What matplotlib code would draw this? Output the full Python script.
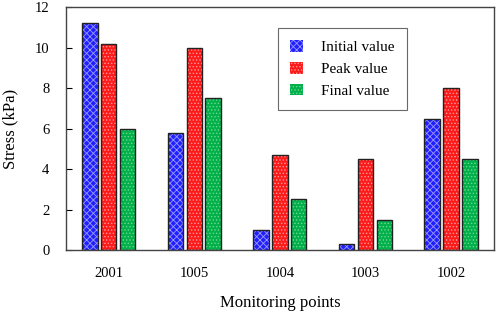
import matplotlib.pyplot as plt
import numpy as np

plt.rcParams["font.family"] = ["Liberation Serif", "DejaVu Serif"]
plt.rcParams["hatch.linewidth"] = 0.6

points = ["2001", "1005", "1004", "1003", "1002"]
initial = [11.2, 5.8, 1.0, 0.3, 6.5]
peak = [10.2, 10.0, 4.7, 4.5, 8.0]
final = [6.0, 7.5, 2.5, 1.5, 4.5]

series = [
    ("Initial value", initial, "#2020ff", "#9a9aff", "xxxxx"),
    ("Peak value", peak, "#ff1a1a", "#ff9a9a", "....."),
    ("Final value", final, "#00b04a", "#70d890", "....."),
]

fig = plt.figure(figsize=(4.98, 3.13), dpi=100)
ax = fig.add_axes([0.1325, 0.201, 0.859, 0.776])

x = np.arange(len(points))
w = 0.18
step = 0.22
handles = []
for i, (name, vals, face, hcol, hatch) in enumerate(series):
    pos = x + (i - 1) * step
    ax.bar(pos, vals, width=w, color=face, edgecolor=hcol, hatch=hatch, linewidth=0)
    ax.bar(pos, vals, width=w, fill=False, edgecolor="#222222", linewidth=1.0)
    h = plt.Rectangle((0, 0), 1, 1, facecolor=face, edgecolor=hcol, hatch=hatch, linewidth=0)
    handles.append(h)

ax.set_xlim(-0.5, 4.5)
ax.set_ylim(0, 12)
ax.set_yticks(range(0, 13, 2))
ax.set_xticks(x)
ax.set_xticklabels(points)
ax.tick_params(axis="x", length=0, pad=12, labelsize=10.5)
ax.tick_params(axis="y", direction="in", length=4, pad=12, labelsize=10.5, right=False)
for s in ax.spines.values():
    s.set_color("#444444")
    s.set_linewidth(1.0)

ax.set_xlabel("Monitoring points", fontsize=12, labelpad=11)
ax.set_ylabel("Stress (kPa)", fontsize=12, labelpad=12)

leg = ax.legend(handles, [s[0] for s in series], loc="upper left",
                bbox_to_anchor=(0.496, 0.915), fontsize=11, frameon=True,
                fancybox=False, edgecolor="#444444", handlelength=0.8,
                handleheight=0.8, borderpad=0.8, labelspacing=0.5,
                handletextpad=1.2, borderaxespad=0.0)
leg.get_frame().set_linewidth(0.8)

fig.savefig("out.png", dpi=100)
